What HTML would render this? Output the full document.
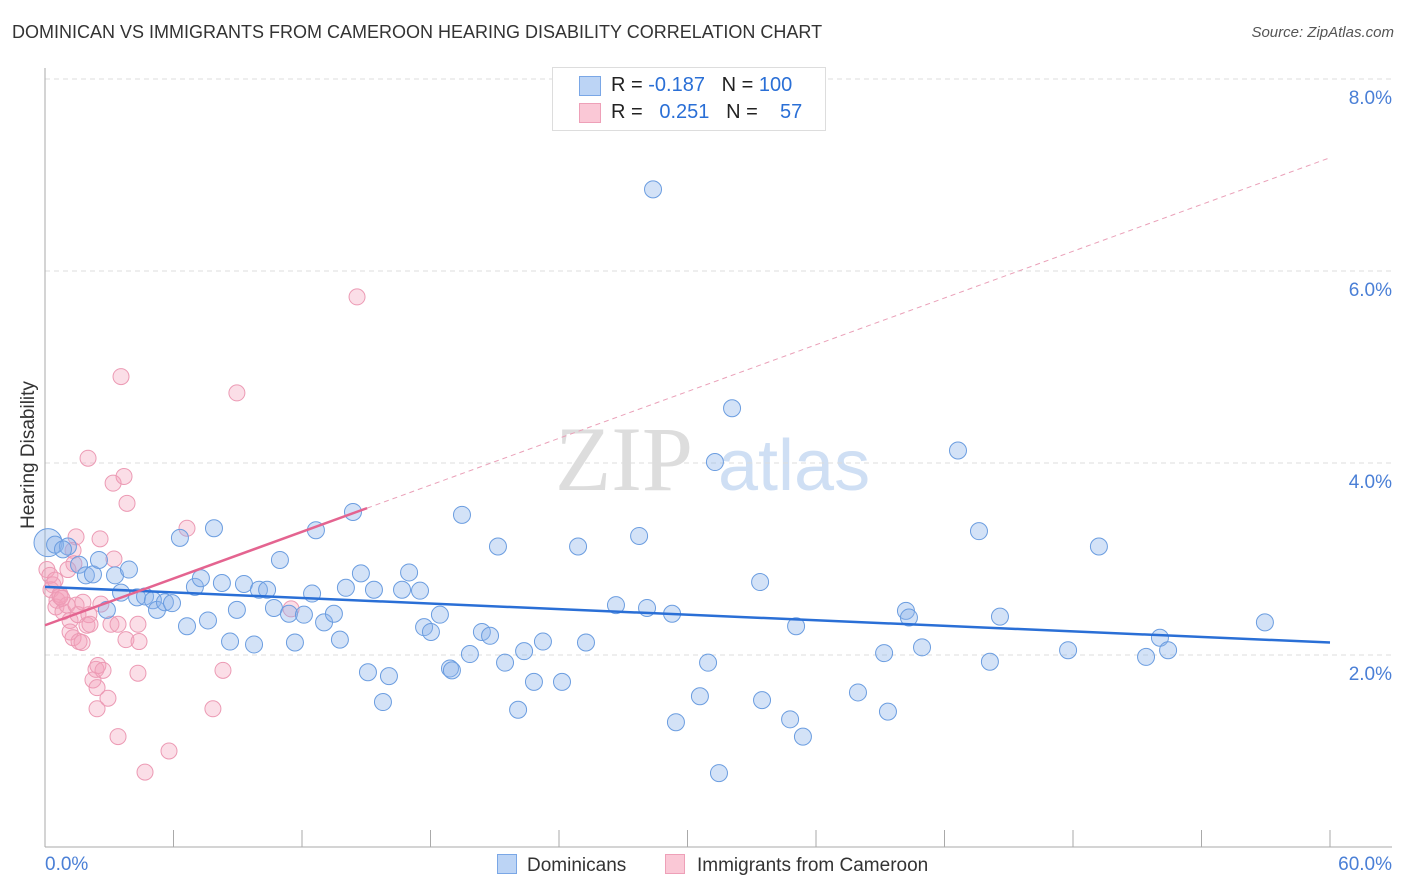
<!DOCTYPE html>
<html><head><meta charset="utf-8"><style>
body{margin:0;background:#fff;font-family:"Liberation Sans",sans-serif;}
#w{position:relative;width:1406px;height:892px;overflow:hidden;}
.t{position:absolute;white-space:nowrap;}
</style></head><body>
<div id="w">
<div class="t" style="left:12px;top:22px;font-size:18px;color:#333;">DOMINICAN VS IMMIGRANTS FROM CAMEROON HEARING DISABILITY CORRELATION CHART</div>
<div class="t" style="right:12px;top:24px;font-size:15px;color:#555;font-style:italic;">Source: ZipAtlas.com</div>
<svg id="svg" width="1406" height="892" style="position:absolute;left:0;top:0"></svg>
</div>
<script>
const xTicks=[0,60];
const yTicks=[2,4,6,8];
const blueX=[],blueY=[],pinkX=[],pinkY=[];
const bluePx=[[48,543],[55,545],[68,547],[63,549],[79,565],[86,575],[93,574],[99,560],[107,610],[115,575],[121,593],[129,570],[137,597],[145,596],[153,600],[157,610],[165,602],[172,603],[180,538],[187,626],[195,587],[201,578],[208,620],[214,528],[222,583],[230,642],[237,610],[244,584],[254,644],[259,590],[267,590],[274,608],[280,560],[289,614],[295,643],[304,615],[312,594],[316,530],[324,622],[334,614],[340,640],[346,588],[353,512],[361,573],[368,672],[374,590],[383,702],[389,676],[402,590],[409,572],[420,591],[424,627],[431,632],[440,615],[450,668],[452,670],[462,515],[470,654],[482,632],[490,636],[498,547],[505,663],[518,710],[524,651],[534,682],[543,642],[562,682],[578,547],[586,643],[616,605],[639,536],[647,608],[653,189],[672,614],[676,722],[700,696],[708,663],[715,462],[719,773],[732,408],[760,582],[762,700],[790,719],[796,626],[803,737],[858,692],[884,653],[888,712],[906,611],[909,618],[922,647],[958,451],[979,531],[990,662],[1000,617],[1068,650],[1099,547],[1146,657],[1160,638],[1168,650],[1265,622]];
const pinkPx=[[47,570],[50,575],[53,585],[51,590],[57,600],[56,607],[60,595],[63,612],[67,605],[70,620],[70,632],[73,550],[76,537],[73,638],[79,642],[76,605],[78,615],[82,643],[88,458],[87,625],[89,615],[90,624],[93,680],[96,669],[97,688],[97,709],[98,666],[100,539],[101,604],[103,670],[108,698],[111,624],[113,483],[114,559],[118,737],[118,624],[121,377],[124,476],[126,640],[127,503],[138,624],[139,642],[138,673],[145,772],[169,751],[187,528],[213,709],[223,670],[237,393],[291,609],[357,297],[60,596],[62,598],[83,602],[74,564],[55,580],[68,570]];
// converted values (percent)
for(const p of bluePx){blueX.push(+((p[0]-45)/1285*60).toFixed(2));blueY.push(+((847-p[1])/96).toFixed(2));}
for(const p of pinkPx){pinkX.push(+((p[0]-45)/1285*60).toFixed(2));pinkY.push(+((847-p[1])/96).toFixed(2));}
const blueTrend=[[0,2.71],[60,2.13]];
const pinkTrend=[[0,2.31],[15.04,3.53],[60,7.18]];
const X=v=>45+v/60*1285, Y=v=>847-v*96;
const svg=document.getElementById('svg');
function el(t,a,p){const e=document.createElementNS('http://www.w3.org/2000/svg',t);for(const k in a)e.setAttribute(k,a[k]);(p||svg).appendChild(e);return e;}
// watermark
let wm=el('text',{x:555,y:490,'font-size':92,'font-family':'Liberation Serif',fill:'#ddd'});wm.textContent='ZIP';


let wm2=el('text',{x:718,y:490,'font-size':72,'font-family':'Liberation Sans',fill:'#cfdff4'});wm2.textContent='atlas';


for(const v of yTicks){
 const g=el('line',{x1:45,x2:1392,y1:Y(v),y2:Y(v),stroke:'#ddd','stroke-dasharray':'5,4'});
 
 
 const t=el('text',{x:1392,y:Y(v)+25,'text-anchor':'end','font-size':19,fill:'#4a7fd6'});t.textContent=v.toFixed(1)+'%';
 
 
}
let ax=el('line',{x1:45,x2:45,y1:68,y2:847,stroke:'#aaa'});


let bx=el('line',{x1:45,x2:1392,y1:847,y2:847,stroke:'#aaa'});


for(let k=0;k<=10;k++){const tk=el('line',{x1:X(k*6),x2:X(k*6),y1:830,y2:847,stroke:'#aaa'});
 
 }
xTicks.forEach((v,i)=>{const t=el('text',{x:i?1392:45,y:870,'text-anchor':i?'end':'start','font-size':19,fill:'#4a7fd6'});t.textContent=v.toFixed(1)+'%';
 
 });
let yt=el('text',{x:0,y:0,'font-size':19,fill:'#333',transform:'translate(34,455) rotate(-90)','text-anchor':'middle'});yt.textContent='Hearing Disability';


for(let i=0;i<pinkX.length;i++){const c=el('circle',{cx:X(pinkX[i]),cy:Y(pinkY[i]),r:8,fill:'rgba(244,160,185,0.35)',stroke:'#ec9ab4','stroke-width':1});
 
 }
for(let i=0;i<blueX.length;i++){const c=el('circle',{cx:X(blueX[i]),cy:Y(blueY[i]),r:i==0?14:8.5,fill:'rgba(140,180,235,0.38)',stroke:'#6b9de0','stroke-width':1});
 
 }
let bl=el('line',{x1:X(blueTrend[0][0]),y1:Y(blueTrend[0][1]),x2:X(blueTrend[1][0]),y2:Y(blueTrend[1][1]),stroke:'#2a6fd6','stroke-width':2.5});


let pl=el('line',{x1:X(pinkTrend[0][0]),y1:Y(pinkTrend[0][1]),x2:X(pinkTrend[1][0]),y2:Y(pinkTrend[1][1]),stroke:'#e46490','stroke-width':2.5});


let pd=el('line',{x1:X(pinkTrend[1][0]),y1:Y(pinkTrend[1][1]),x2:X(pinkTrend[2][0]),y2:Y(pinkTrend[2][1]),stroke:'#eaa0b8','stroke-width':1,'stroke-dasharray':'5,4'});


</script>
<div class="t" style="left:552px;top:67px;width:272px;height:62px;border:1px solid #ddd;background:#fff;">
 <div style="position:absolute;left:26px;top:8px;width:20px;height:18px;background:#bcd4f5;border:1px solid #7aa7e6"></div>
 <div style="position:absolute;left:26px;top:35px;width:20px;height:18px;background:#fac8d6;border:1px solid #eea0b8"></div>
 <div class="t" style="left:58px;top:6px;font-size:20px;color:#222">R = <span style="color:#2a6fd6">-0.187</span>&nbsp;&nbsp;&nbsp;N = <span style="color:#2a6fd6">100</span></div>
 <div class="t" style="left:58px;top:33px;font-size:20px;color:#222">R = &nbsp;&nbsp;<span style="color:#2a6fd6">0.251</span>&nbsp;&nbsp;&nbsp;N = &nbsp;&nbsp;&nbsp;<span style="color:#2a6fd6">57</span></div>
</div>
<div class="t" style="left:497px;top:854px;font-size:19px;color:#333"><span style="display:inline-block;width:18px;height:18px;background:#bcd4f5;border:1px solid #7aa7e6;vertical-align:-3px;margin-right:10px"></span>Dominicans</div>
<div class="t" style="left:665px;top:854px;font-size:19px;color:#333"><span style="display:inline-block;width:18px;height:18px;background:#fac8d6;border:1px solid #eea0b8;vertical-align:-3px;margin-right:12px"></span>Immigrants from Cameroon</div>
</body></html>
